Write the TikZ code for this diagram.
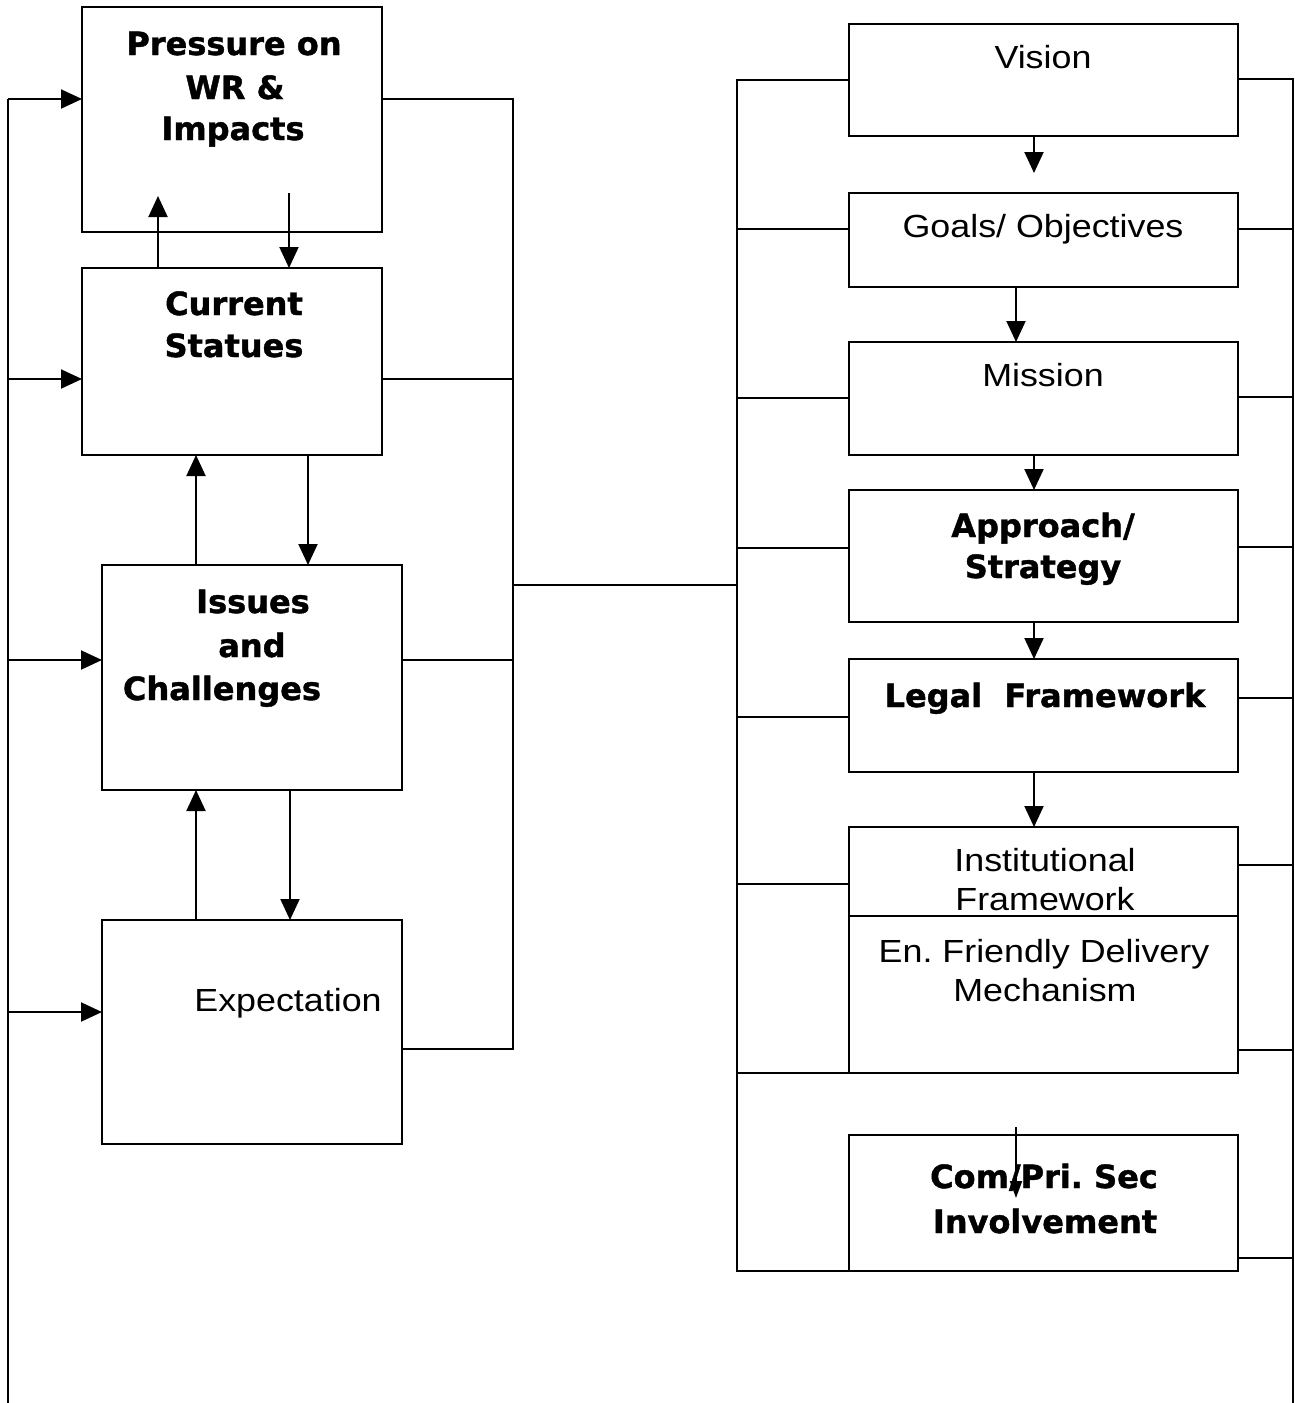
\documentclass[tikz,border=0pt]{standalone}
\usepackage{fontspec}
\newfontfamily\regf[FakeStretch=1.12]{Liberation Sans}
\newfontfamily\boldf[BoldFeatures={FakeBold=1.3}]{DejaVu Sans}
\usetikzlibrary{arrows.meta,calc}
\begin{document}
\begin{tikzpicture}[x=1pt,y=-1pt,
  ln/.style={line width=2pt},
  box/.style={draw,line width=2pt,anchor=north west,inner sep=0pt,outer sep=0pt},
  arr/.style={ln,-{Triangle[width=19pt,length=21pt]}},
  sarr/.style={ln,-{Triangle[width=12pt,length=17pt]}},
  bt/.style={font=\boldf\bfseries\fontsize{32}{43}\selectfont,inner sep=0pt,anchor=base},
  rt/.style={font=\regf\fontsize{32}{40}\selectfont,inner sep=0pt,anchor=base}]
\useasboundingbox (0,0) rectangle (1295,1403);

% ---------- left column boxes
\node[box,minimum width=300pt,minimum height=225pt] (P) at (82,7) {};
\node[box,minimum width=300pt,minimum height=187pt] (C) at (82,268) {};
\node[box,minimum width=300pt,minimum height=225pt] (I) at (102,565) {};
\node[box,minimum width=300pt,minimum height=224pt] (E) at (102,920) {};

% ---------- right column boxes
\node[box,minimum width=389pt,minimum height=112pt] (V)  at (849,24) {};
\node[box,minimum width=389pt,minimum height=94pt]  (G)  at (849,193) {};
\node[box,minimum width=389pt,minimum height=113pt] (M)  at (849,342) {};
\node[box,minimum width=389pt,minimum height=132pt] (A)  at (849,490) {};
\node[box,minimum width=389pt,minimum height=113pt] (L)  at (849,659) {};
\node[box,minimum width=389pt,minimum height=89pt]  (IF) at (849,827) {};
\node[box,minimum width=389pt,minimum height=157pt] (EF) at (849,916) {};
\node[box,minimum width=389pt,minimum height=136pt] (CP) at (849,1135) {};

% ---------- texts
\node[bt] (tP1) at (234,55) {Pressure on};
\node[bt] (tP2) at (235,99) {WR \&};
\node[bt] (tP3) at (233,140) {Impacts};
\node[bt] (tC1) at (234,315) {Current};
\node[bt] (tC2) at (234,357) {Statues};
\node[bt] (tI1) at (253,613) {Issues};
\node[bt] (tI2) at (252,657) {and};
\node[bt] (tI3) at (222,700) {Challenges};
\node[rt] (tE)  at (288,1011) {Expectation};

\node[rt] (tV)  at (1043,68) {Vision};
\node[rt] (tG)  at (1043,237) {Goals/ Objectives};
\node[rt] (tM)  at (1043,386) {Mission};
\node[bt] (tA1) at (1043,537) {Approach/};
\node[bt] (tA2) at (1043,578) {Strategy};
\node[bt] (tL)  at (1045,707) {Legal~~Framework};
\node[rt] (tF1) at (1045,871) {Institutional};
\node[rt] (tF2) at (1045,910) {Framework};
\node[rt] (tD1) at (1044,962) {En.\ Friendly Delivery};
\node[rt] (tD2) at (1045,1001) {Mechanism};
\node[bt] (tS1) at (1044,1188) {Com/Pri.\ Sec};
\node[bt] (tS2) at (1045,1233) {Involvement};

% ---------- bus coordinates
\coordinate (LBt) at (8,99);
\coordinate (LBb) at (8,1403);
\coordinate (RBt) at (513,99);
\coordinate (RBb) at (513,1049);
\coordinate (MBt) at (737,80);
\coordinate (QBt) at (1293,79);
\coordinate (QBb) at (1293,1403);

% left bus with arrows into boxes
\draw[ln] (LBt) -- (LBb);
\draw[arr] (LBt) -- (P.west |- LBt);
\draw[arr] (LBt |- 0,379) -- (C.west |- 0,379);
\draw[arr] (LBt |- 0,660) -- (I.west |- 0,660);
\draw[arr] (LBt |- 0,1012) -- (E.west |- 0,1012);

% right side of the left column
\draw[ln] (P.east |- RBt) -- (RBt) -- (RBb) -- (E.east |- RBb);
\draw[ln] (C.east |- 0,379) -- (RBt |- 0,379);
\draw[ln] (I.east |- 0,660) -- (RBt |- 0,660);
\draw[ln] (RBt |- 0,585) -- (MBt |- 0,585);

% left bus of the right column
\draw[ln] (V.west |- MBt) -- (MBt) -- (MBt |- CP.south west) -- (CP.south west);
\draw[ln] (G.west |- 0,229) -- (MBt |- 0,229);
\draw[ln] (M.west |- 0,398) -- (MBt |- 0,398);
\draw[ln] (A.west |- 0,548) -- (MBt |- 0,548);
\draw[ln] (L.west |- 0,717) -- (MBt |- 0,717);
\draw[ln] (IF.west |- 0,884) -- (MBt |- 0,884);
\draw[ln] (EF.south west) -- (MBt |- EF.south west);

% right bus
\draw[ln] (V.east |- QBt) -- (QBt) -- (QBb);
\draw[ln] (G.east |- 0,229) -- (QBt |- 0,229);
\draw[ln] (M.east |- 0,397) -- (QBt |- 0,397);
\draw[ln] (A.east |- 0,547) -- (QBt |- 0,547);
\draw[ln] (L.east |- 0,698) -- (QBt |- 0,698);
\draw[ln] (IF.east |- 0,865) -- (QBt |- 0,865);
\draw[ln] (EF.east |- 0,1050) -- (QBt |- 0,1050);
\draw[ln] (CP.east |- 0,1258) -- (QBt |- 0,1258);

% vertical arrows, left column
\coordinate (p1) at (158,196);
\coordinate (p2) at (289,193);
\draw[arr] (C.north -| p1) -- (p1);
\draw[arr] (p2) -- (C.north -| p2);
\draw[arr] (I.north -| 196,0) -- (C.south -| 196,0);
\draw[arr] (C.south -| 308,0) -- (I.north -| 308,0);
\draw[arr] (E.north -| 196,0) -- (I.south -| 196,0);
\draw[arr] (I.south -| 290,0) -- (E.north -| 290,0);

% vertical arrows, right column
\coordinate (v1) at (1034,173);
\draw[arr] (V.south -| v1) -- (v1);
\draw[arr] (G.south -| 1016,0) -- (M.north -| 1016,0);
\draw[arr] (M.south -| 1034,0) -- (A.north -| 1034,0);
\draw[arr] (A.south -| 1034,0) -- (L.north -| 1034,0);
\draw[arr] (L.south -| 1034,0) -- (IF.north -| 1034,0);
\coordinate (c1) at (1016,1127);
\coordinate (c2) at (1016,1198);
\draw[sarr] (c1) -- (c2);
\end{tikzpicture}
\end{document}
